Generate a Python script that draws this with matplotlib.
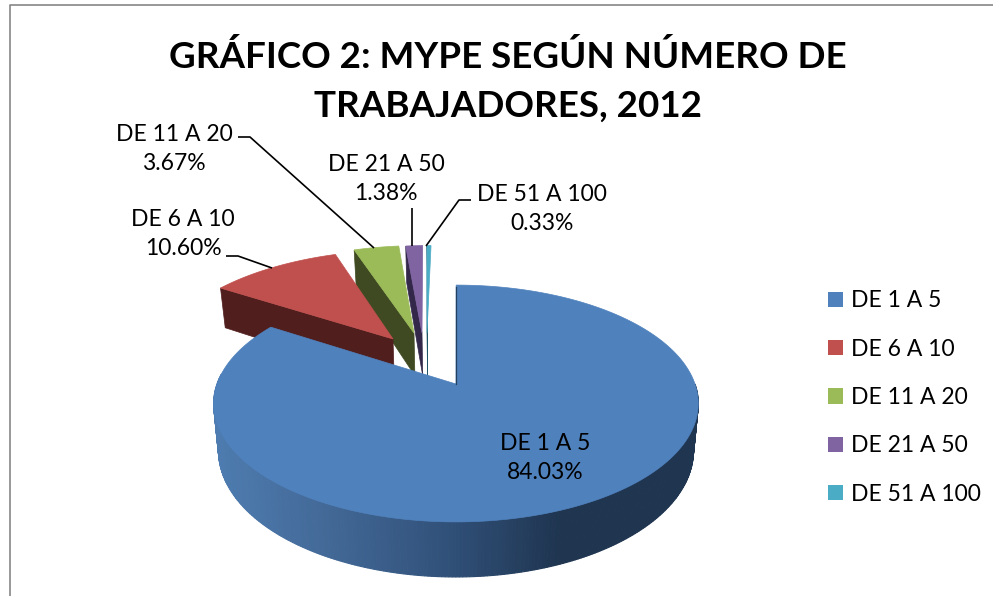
"""
GRÁFICO 2: MYPE según número de trabajadores, 2012. Pie en perspectiva con porciones separadas.
"""
import numpy as np
import matplotlib
matplotlib.use("Agg")
import matplotlib.pyplot as plt
from matplotlib.patches import Patch

plt.rcParams["font.family"] = ["Lato", "DejaVu Sans"]

categories = ["DE 1 A 5", "DE 6 A 10", "DE 11 A 20", "DE 21 A 50", "DE 51 A 100"]
shares = [84.03, 10.60, 3.67, 1.38, 0.33]
colors = ["#4f81bd", "#c0504d", "#9bbb59", "#8064a2", "#4bacc6"]
wall_colors = ["#1f3550", "#4f1e1d", "#3f4a22", "#33284a", "#1f5566"]
# donde cae el vertice de cada porcion en pantalla
apex_px = [(456, 384), (393, 339), (414, 333), (422, 333), (427, 333)]
radius = [1.0, 1.02, 1.02, 1.02, 1.02]
title = "GRÁFICO 2: MYPE SEGÚN NÚMERO DE\nTRABAJADORES, 2012"

# geometria de la perspectiva
CX, CY = 457, 384
RX, RY, K = 239.0, 115.2, 0.1646
DEPTH = 46
BOTTOM_SHRINK = 0.98


def project(u, v):
    s = 1 / (1 + K * v)
    return CX + RX * u * s, CY - RY * v * s


def unproject(x, y):
    dy = CY - y
    v = dy / (RY - K * dy)
    s = 1 / (1 + K * v)
    return (x - CX) / (RX * s), v


def drop(x, y):
    # punto de la cara inferior bajo un punto de la cara superior
    v = unproject(x, y)[1]
    s = 1 / (1 + K * v)
    return CX + (x - CX) * BOTTOM_SHRINK, y + DEPTH * s


def arc(a0, a1, apex, r=1.0, n=200):
    t = np.radians(np.linspace(a0, a1, n))
    return project(apex[0] + r * np.sin(t), apex[1] + r * np.cos(t))


fig = plt.figure(figsize=(9.93, 5.96), dpi=100)
ax = fig.add_axes([0, 0, 1, 1])
ax.set_xlim(0, 993)
ax.set_ylim(596, 0)
ax.axis("off")

# marco del grafico
ax.plot([10, 10, 993], [596, 4.5, 4.5], color="#868686", lw=1.2)

edges = np.concatenate([[0], np.cumsum(shares)]) / sum(shares) * 360
apexes = [unproject(*p) for p in apex_px]

# porciones de atras hacia adelante
for i in range(len(shares) - 1, 0, -1):
    a0, a1 = edges[i], edges[i + 1]
    ax_, ay_ = project(*apexes[i])
    xs, ys = arc(a0, a1, apexes[i], r=radius[i])
    bx0, by0 = drop(xs[0], ys[0])
    bax, bay = drop(ax_, ay_)
    ax.fill([xs[0], ax_, bax, bx0], [ys[0], ay_, bay, by0], color=wall_colors[i], lw=0.5)
    ax.fill(np.r_[ax_, xs], np.r_[ay_, ys], color=colors[i], lw=0.5)

# pared curva de la porcion grande
wall_x = [214, 330, 450, 560, 698]
wall_r = [78, 66, 48, 31, 31]
wall_g = [124, 104, 80, 53, 53]
wall_b = [176, 150, 120, 80, 80]
xs, ys = arc(90, 275, apexes[0], n=260)
for j in range(len(xs) - 1):
    bx0, by0 = drop(xs[j], ys[j])
    bx1, by1 = drop(xs[j + 1], ys[j + 1])
    xm = (xs[j] + xs[j + 1]) / 2
    c = (np.interp(xm, wall_x, wall_r) / 255, np.interp(xm, wall_x, wall_g) / 255,
         np.interp(xm, wall_x, wall_b) / 255)
    ax.fill([xs[j], xs[j + 1], bx1, bx0], [ys[j], ys[j + 1], by1, by0], color=c, lw=0.8)

ax_, ay_ = project(*apexes[0])
xs, ys = arc(edges[0], edges[1], apexes[0], n=500)
ax.fill(np.r_[ax_, xs], np.r_[ay_, ys], color=colors[0], lw=0.5)
ax.plot([ax_ - 0.5, ax_ - 0.5], [ys[0] + 2, ay_], color="#23405f", lw=0.9)

# titulo
ax.text(508, 81, title, ha="center", va="center", fontsize=26.5, fontweight="bold",
        color="black", linespacing=1.58)

# etiquetas de datos
label_pos = [(545, 458), (183, 234), (174, 149), (386, 179), (542, 209)]
for name, val, (x, y) in zip(categories, shares, label_pos):
    ax.text(x, y, f"{name}\n{val:.2f}%", ha="center", va="center", fontsize=16.5,
            color="black", linespacing=1.47)

# lineas guia
leaders = [
    ([226, 238, 272], [256, 256, 268]),
    ([238, 250, 374], [137, 137, 248]),
    ([412, 412], [208, 246]),
    ([471, 459, 426], [200, 200, 246]),
]
for lx, ly in leaders:
    ax.plot(lx, ly, color="black", lw=1.2, solid_capstyle="butt")

# leyenda
handles = [Patch(facecolor=c, edgecolor="none") for c in colors]
ax.legend(handles, categories, loc="upper left", bbox_to_anchor=(817, 279),
          bbox_transform=ax.transData, frameon=False, fontsize=16.5,
          handlelength=0.65, handleheight=0.65, handletextpad=0.35,
          labelspacing=1.19, borderpad=0.5, borderaxespad=0)

fig.savefig("out.png", dpi=100)
